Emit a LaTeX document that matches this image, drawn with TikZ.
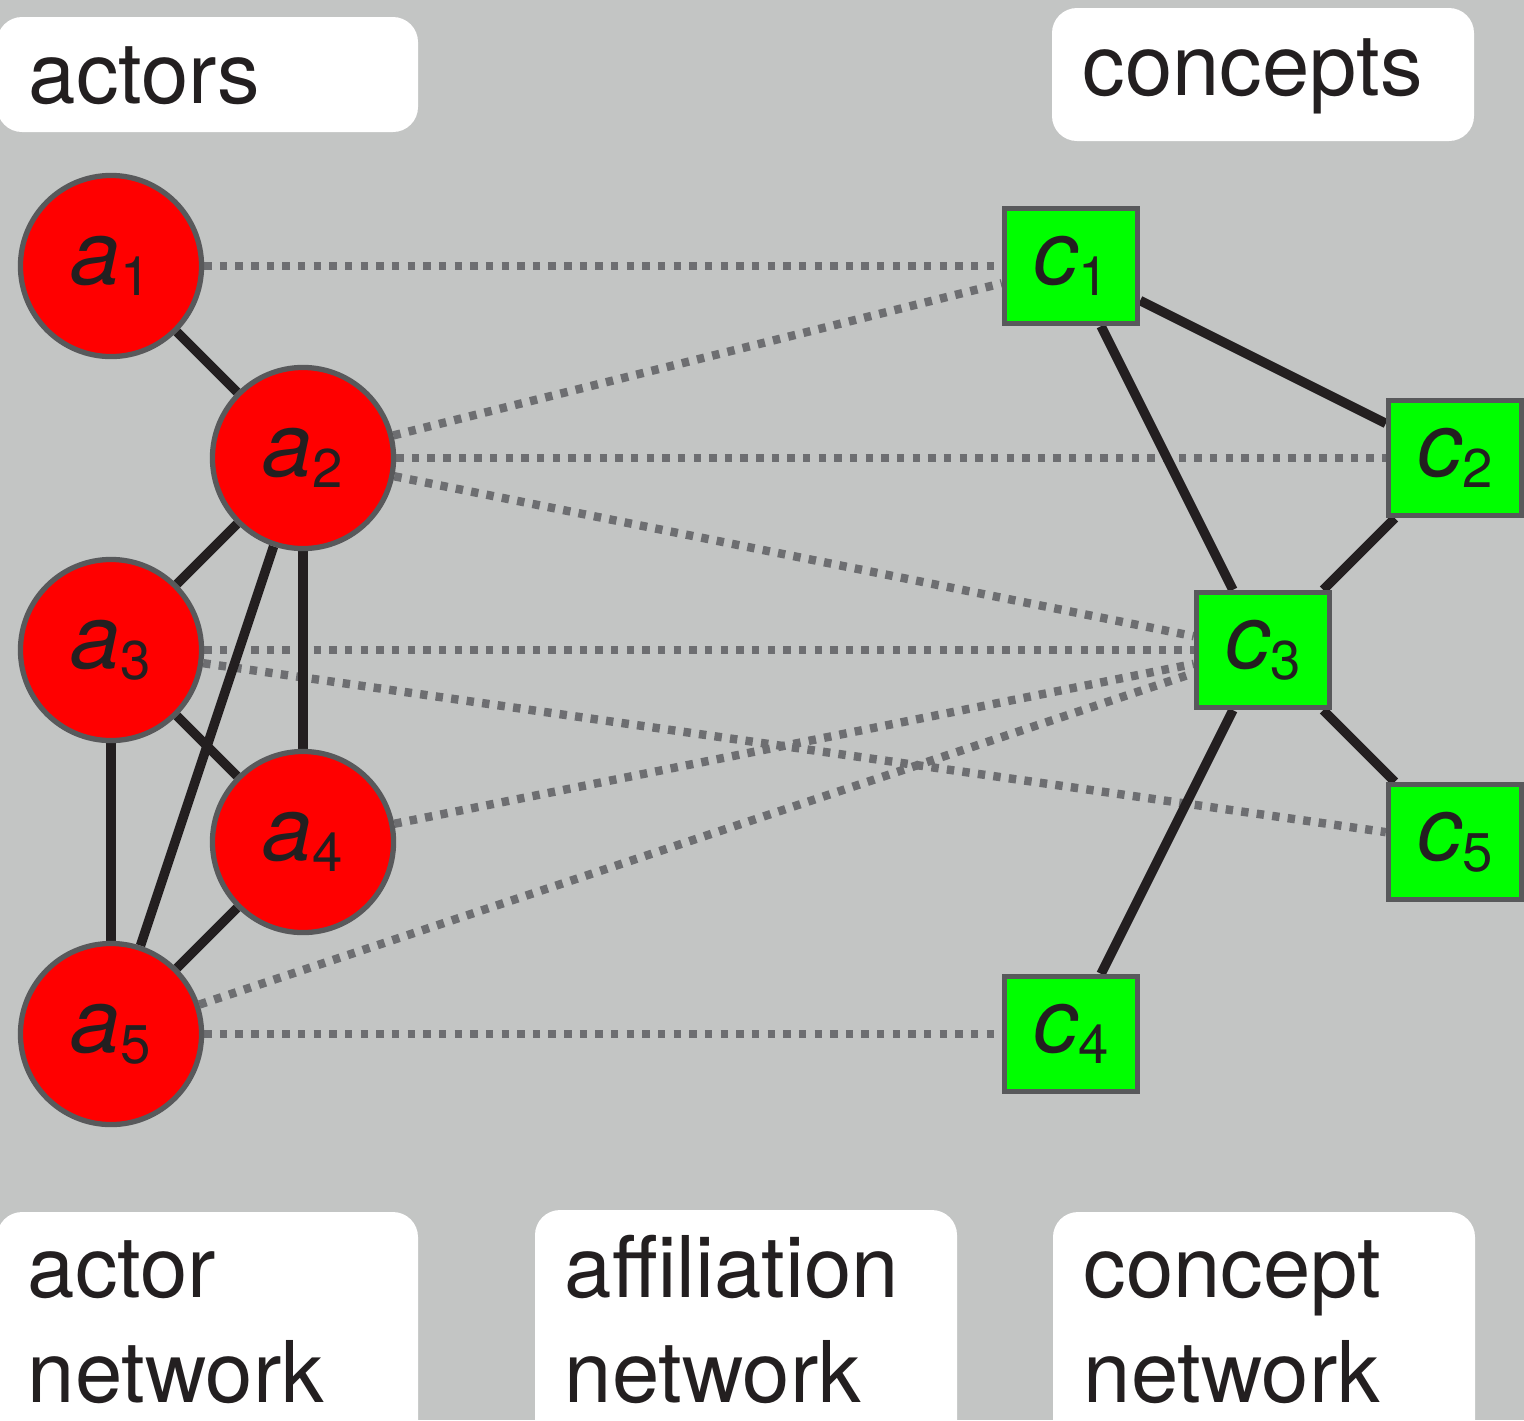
\documentclass[tikz,border=0pt]{standalone}
\usepackage{fontspec}
\setmainfont{TeX Gyre Heros}
\definecolor{bgc}{HTML}{C3C5C4}
\definecolor{ink}{HTML}{231F20}
\definecolor{rim}{HTML}{58595B}
\definecolor{dotc}{HTML}{6D6E71}
\definecolor{cgreen}{HTML}{00FF00}
\newcommand\nlab[2]{\textit{#1}\raisebox{-3.1pt}{\fontsize{15.5}{15.5}\selectfont #2}}
\pgfdeclarelayer{bglayer}
\pgfdeclarelayer{dotlayer}
\pgfdeclarelayer{tielayer}
\pgfsetlayers{bglayer,dotlayer,tielayer,main}
\tikzset{
  actor/.style={circle, draw=rim, line width=1.5pt, fill=red, minimum size=1.81cm, inner sep=0pt, text=ink, font=\fontsize{25.5}{30}\selectfont},
  concept/.style={rectangle, draw=rim, line width=1.5pt, fill=cgreen, minimum width=1.33cm, minimum height=1.15cm, inner sep=0pt, text=ink, font=\fontsize{25.5}{30}\selectfont},
  tie/.style={draw=ink, line width=2.7pt},
  aff/.style={draw=dotc, line width=2.4pt, dash pattern=on 2.1pt off 2.35pt},
  lbl/.style={text=ink, font=\fontsize{24.2}{29.6}\selectfont, inner sep=0pt, align=left},
  panel/.style={fill=white, rounded corners=0.25cm}
}
\begin{document}
\begin{tikzpicture}[x=0.01cm,y=-0.01cm]
\useasboundingbox (0,0) rectangle (1524,1420);
\begin{pgfonlayer}{bglayer}
\fill[bgc] (0,0) rectangle (1524,1420);
\fill[panel] (-3,17) rectangle (418,132);
\fill[panel] (1052,8) rectangle (1474,141);
\fill[panel] (-3,1212) rectangle (418,1460);
\fill[panel] (535,1210) rectangle (957,1460);
\fill[panel] (1053,1212) rectangle (1475,1460);
\end{pgfonlayer}
% labels (base anchor = baseline of last line)
\node (tactors) [lbl, anchor=base west] at (28,103) {actors};
\node (tconcepts) [lbl, anchor=base west] at (1082,95) {concepts};
\node (tactnet) [lbl, anchor=base west] at (27,1402) {actor\\network};
\node (taffnet) [lbl, anchor=base west] at (564,1402) {affiliation\\network};
\node (tconnet) [lbl, anchor=base west] at (1083,1402) {concept\\network};
% actors
\node (a1) [actor] at (111,266) {\nlab{a}{1}};
\node (a2) [actor] at (303,458) {\nlab{a}{2}};
\node (a3) [actor] at (111,650) {\nlab{a}{3}};
\node (a4) [actor] at (303,842) {\nlab{a}{4}};
\node (a5) [actor] at (111,1034) {\nlab{a}{5}};
% concepts
\node (c1) [concept] at (1071,266) {\nlab{c}{1}};
\node (c2) [concept] at (1455,458) {\nlab{c}{2}};
\node (c3) [concept] at (1263,650) {\nlab{c}{3}};
\node (c4) [concept] at (1071,1034) {\nlab{c}{4}};
\node (c5) [concept] at (1455,842) {\nlab{c}{5}};
% affiliation ties
\begin{pgfonlayer}{dotlayer}
\draw[aff] (a1) -- (c1);
\draw[aff] (a2) -- (c1);
\draw[aff] (a2) -- (c2);
\draw[aff] (a2) -- (c3);
\draw[aff] (a3) -- (c3);
\draw[aff] (a3) -- (c5);
\draw[aff] (a4) -- (c3);
\draw[aff] (a5) -- (c3);
\draw[aff] (a5) -- (c4);
\end{pgfonlayer}
% network ties
\begin{pgfonlayer}{tielayer}
\draw[tie] (a1) -- (a2);
\draw[tie] (a2) -- (a3);
\draw[tie] (a2) -- (a4);
\draw[tie] (a2) -- (a5);
\draw[tie] (a3) -- (a4);
\draw[tie] (a3) -- (a5);
\draw[tie] (a4) -- (a5);
\draw[tie] (c1) -- (c2);
\draw[tie] (c1) -- (c3);
\draw[tie] (c2) -- (c3);
\draw[tie] (c3) -- (c5);
\draw[tie] (c3) -- (c4);
\end{pgfonlayer}
\end{tikzpicture}
\end{document}
